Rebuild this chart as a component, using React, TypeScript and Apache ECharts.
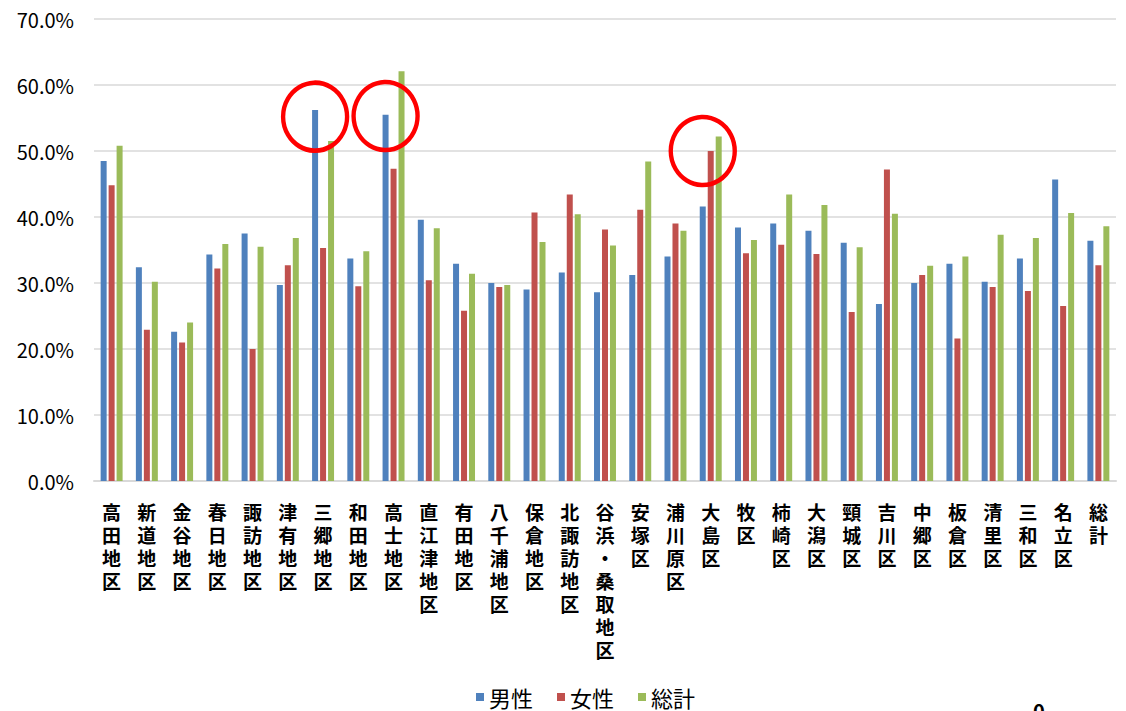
import React, { useEffect, useRef } from "react";
import * as echarts from "echarts";

const categories = [
  "高田地区", "新道地区", "金谷地区", "春日地区", "諏訪地区", "津有地区", "三郷地区", "和田地区",
  "高士地区", "直江津地区", "有田地区", "八千浦地区", "保倉地区", "北諏訪地区", "谷浜・桑取地区",
  "安塚区", "浦川原区", "大島区", "牧区", "柿崎区", "大潟区", "頸城区", "吉川区", "中郷区",
  "板倉区", "清里区", "三和区", "名立区", "総計",
];

const male = [
  48.5, 32.4, 22.6, 34.3, 37.5, 29.7, 56.2, 33.7, 55.5, 39.6, 32.9, 30.0, 29.0, 31.6, 28.6,
  31.2, 34.0, 41.6, 38.4, 39.0, 37.9, 36.1, 26.8, 30.0, 32.9, 30.2, 33.7, 45.7, 36.4,
];
const female = [
  44.8, 22.9, 21.0, 32.2, 20.0, 32.7, 35.3, 29.5, 47.3, 30.4, 25.8, 29.4, 40.7, 43.4, 38.1,
  41.1, 39.0, 50.0, 34.5, 35.8, 34.4, 25.6, 47.2, 31.2, 21.6, 29.4, 28.8, 26.5, 32.7,
];
const total = [
  50.8, 30.2, 24.0, 35.9, 35.5, 36.8, 51.5, 34.8, 62.1, 38.3, 31.4, 29.7, 36.2, 40.4, 35.7,
  48.4, 37.9, 52.2, 36.5, 43.4, 41.8, 35.4, 40.5, 32.6, 34.0, 37.3, 36.8, 40.6, 38.6,
];

const seriesNames = ["男性", "女性", "総計"];
const colors = ["#4F81BD", "#C0504D", "#9BBB59"];

// highlighted points (red circles), on the male series
const highlights: [string, number][] = [
  ["三郷地区", 55.2],
  ["高士地区", 55.3],
  ["大島区", 50.0],
];

const yTicks = { min: 0, max: 70, interval: 10 };
const FONT = '"Noto Sans CJK JP", "Noto Sans", sans-serif';

export default function App() {
  const ref = useRef<HTMLDivElement>(null);
  useEffect(() => {
    if (!ref.current) return;
    const chart = echarts.init(ref.current, undefined, { renderer: "svg" });
    const values = [male, female, total];
    chart.setOption({
      animation: false,
      backgroundColor: "#ffffff",
      textStyle: { fontFamily: FONT },
      grid: { left: 94, right: 10, top: 19, bottom: 230, containLabel: false },
      legend: {
        data: seriesNames,
        left: 476,
        top: 685,
        padding: 0,
        itemWidth: 8,
        itemHeight: 8,
        itemGap: 24,
        icon: "rect",
        textStyle: { fontSize: 22, lineHeight: 24, color: "#000", fontFamily: FONT },
      },
      xAxis: {
        type: "category",
        data: categories,
        boundaryGap: true,
        axisTick: { show: false },
        axisLine: { lineStyle: { color: "#D9D9D9", width: 2 } },
        axisLabel: {
          interval: 0,
          margin: 19,
          fontSize: 19,
          lineHeight: 23,
          color: "#000",
          fontFamily: FONT,
          fontWeight: "bold",
          verticalAlign: "top",
          formatter: (v: string) => v.split("").join("\n"),
        },
      },
      yAxis: {
        type: "value",
        min: yTicks.min,
        max: yTicks.max,
        interval: yTicks.interval,
        axisLine: { show: false },
        axisTick: { show: false },
        splitLine: { lineStyle: { color: "#D9D9D9", width: 1.5 } },
        axisLabel: {
          margin: 20,
          fontSize: 20,
          color: "#000",
          fontFamily: FONT,
          formatter: (v: number) => v.toFixed(1) + "%",
        },
      },
      series: seriesNames.map((name, i) => ({
        name,
        type: "bar",
        data: values[i],
        barWidth: 6,
        barGap: "33%",
        itemStyle: { color: colors[i] },
        markPoint:
          i === 0
            ? {
                symbol: "circle",
                symbolSize: [64, 68],
                silent: true,
                label: { show: false },
                itemStyle: { color: "rgba(0,0,0,0)", borderColor: "#FF0000", borderWidth: 4.5 },
                data: highlights.map(([c, v]) => ({ coord: [c, v] })),
              }
            : undefined,
      })),
      graphic: [
        {
          type: "text",
          left: 1033,
          top: 700,
          style: { text: "0", fontSize: 20, fontFamily: FONT, fill: "#000", fontWeight: "bold" },
        },
      ],
    });
    return () => chart.dispose();
  }, []);
  return (
    <div
      ref={ref}
      style={{ position: "absolute", left: 0, top: 0, width: 1126, height: 711 }}
    />
  );
}
